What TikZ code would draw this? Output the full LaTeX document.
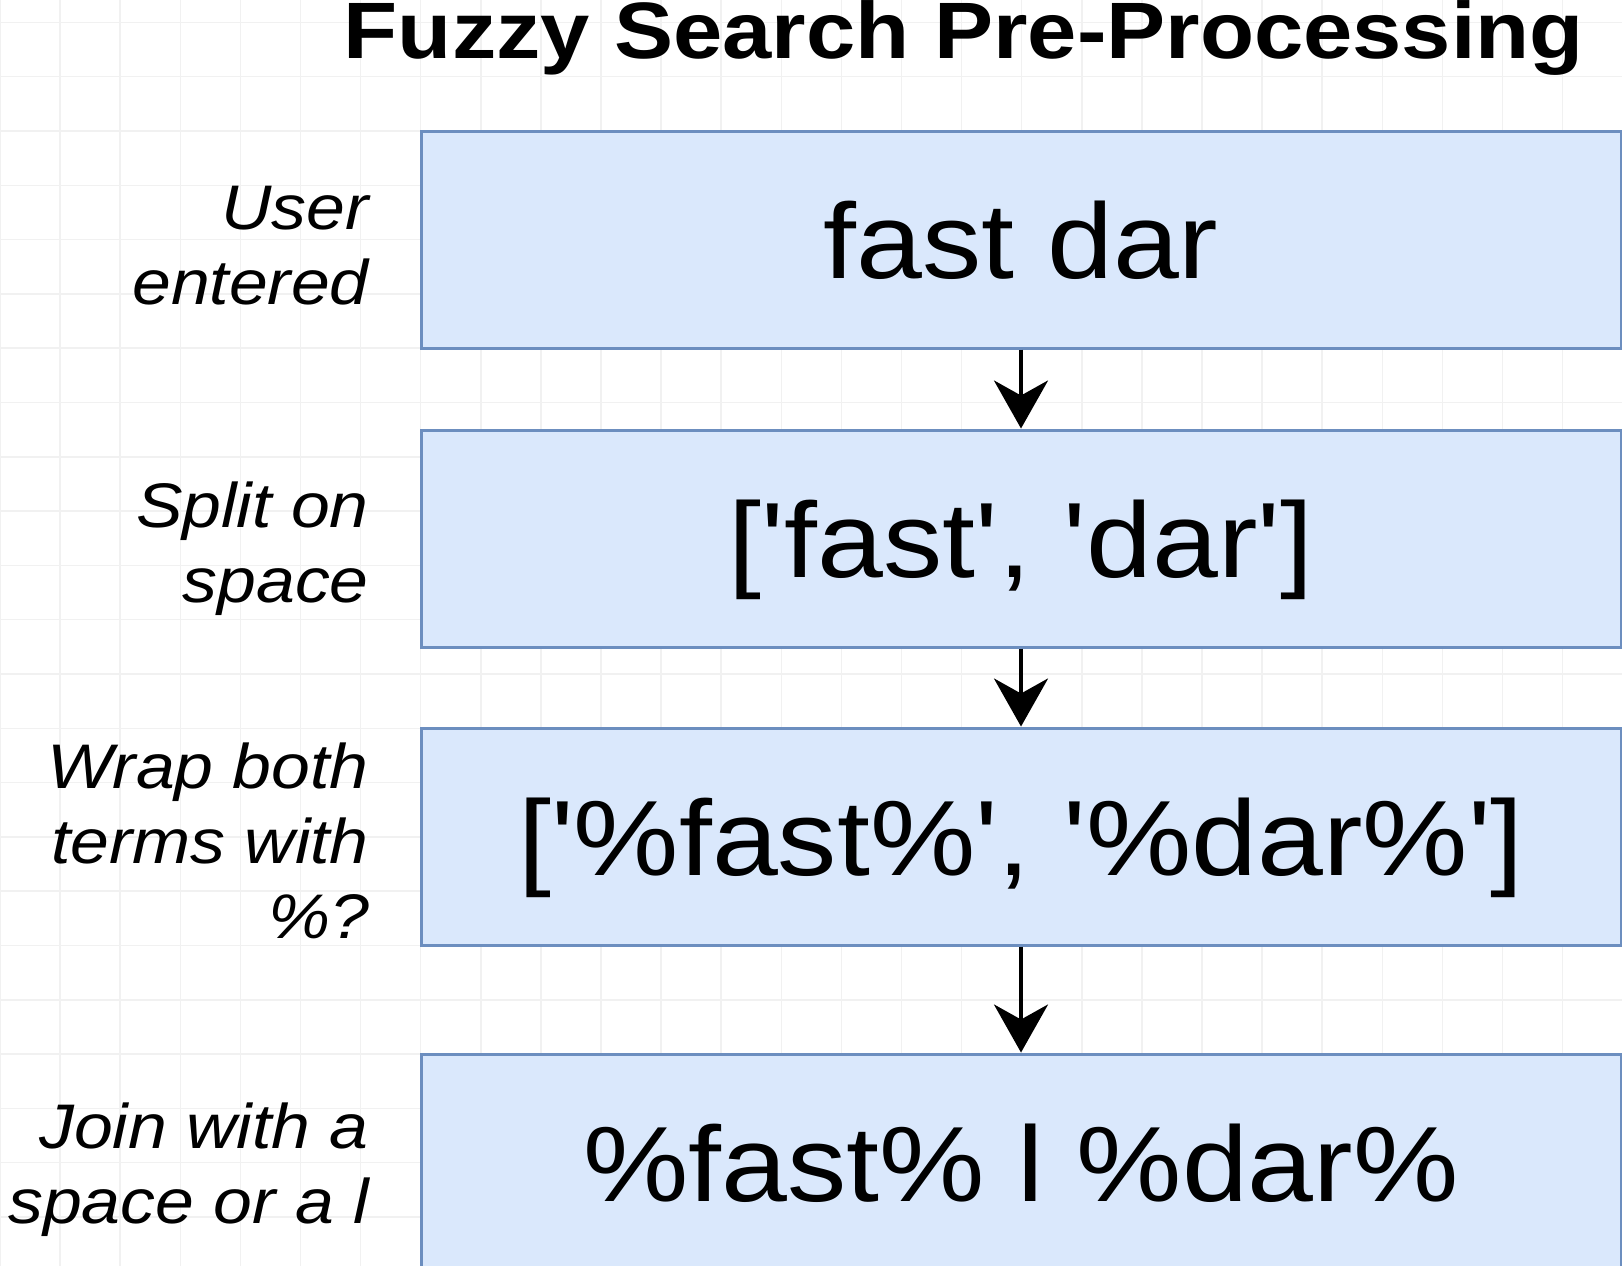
\documentclass[tikz,border=0pt]{standalone}
\usepackage{fontspec}
\newfontfamily\drawiofont[FakeStretch=1.107,Ligatures=TeXOff]{Liberation Sans}
\usetikzlibrary{arrows.meta}

\tikzset{
grid line/.style={color={rgb, 255:red, 241; green, 241; blue, 241}, line width=1.5pt},
stepbox/.style={
    draw={rgb, 255:red, 108; green, 142; blue, 191},
    fill={rgb, 255:red, 218; green, 232; blue, 252},
    line width=3pt, minimum width=1200pt, minimum height=217pt,
    inner sep=0pt, text height=78pt, text depth=0pt,
    font=\drawiofont\fontsize{107pt}{107pt}\selectfont},
steplabel/.style={
    anchor=east, align=right, inner sep=0pt,
    font=\drawiofont\itshape\fontsize{63pt}{75pt}\selectfont},
flow arrow/.style={-{Stealth[length=48pt,width=54pt,inset=15pt]}, line width=4pt}}

\begin{document}
\begin{tikzpicture}[x=1pt,y=1pt,yscale=-1,xscale=1]

    % page and grid paper
    \fill[white] (0,0) rectangle (1622,1266);
    \useasboundingbox (0,0) rectangle (1622,1266);
    \foreach \i in {0,...,27}{
        \draw[grid line] (\i*60.1,0) -- (\i*60.1,1266);
    }
    \foreach \j in {-3,...,21}{
        \draw[grid line] (0,131+\j*54.3) -- (1622,131+\j*54.3);
    }

    \node[anchor=base, font=\drawiofont\bfseries\fontsize{80pt}{80pt}\selectfont]
        (title) at (964,58) {Fuzzy Search Pre-Processing};

    % the four steps
    \node[stepbox] (entered) at (1021,239.5) {fast dar};
    \node[stepbox] (split) at (1021,538.5) {['fast', 'dar']};
    \node[stepbox] (wrapped) at (1021,836.5) {['\%fast\%', '\%dar\%']};
    \node[stepbox] (joined) at (1021,1162.5) {\%fast\% l \%dar\%};

    \node[steplabel] (entered label) at (369,246) {User\\entered};
    \node[steplabel] (split label) at (369,549) {Split on\\space};
    \node[steplabel] (wrapped label) at (369,841) {Wrap both\\terms with\\\%?};
    \node[steplabel] (joined label) at (369,1170) {Join with a\\space or a l};

    \draw[flow arrow] (entered) -- (split);
    \draw[flow arrow] (split) -- (wrapped);
    \draw[flow arrow] (wrapped) -- (joined);

\end{tikzpicture}
\end{document}
